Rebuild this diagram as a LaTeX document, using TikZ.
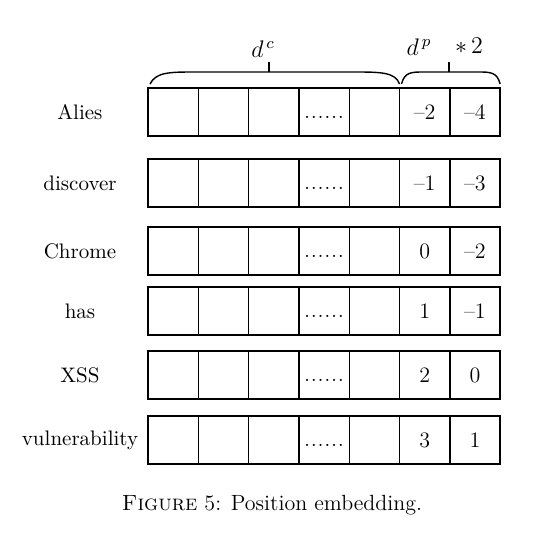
\documentclass[tikz,border=0pt]{standalone}
\usepackage{amsmath,amssymb}
\usepackage{xcolor}
\usepackage{tikz}
\usetikzlibrary{positioning, calc}

\begin{document}
\begin{tikzpicture}[x=0.5pt, y=-0.5pt,
    cellbox/.style={rectangle, draw, line width=0.7pt, minimum width=25.15pt, minimum height=24pt, inner sep=0pt, outer sep=0pt},
    wordlabel/.style={inner sep=0pt, anchor=center, font=\fontsize{10.5}{12}\selectfont},
    numlabel/.style={font=\fontsize{11}{12}\selectfont},
    bracepath/.style={line width=0.7pt}]
    \useasboundingbox (0,0) rectangle (545,532);

    \foreach \r/\y/\word/\pa/\pb in {1/112/Alies/--2/--4, 2/183/discover/--1/--3, 3/251/Chrome/0/--2, 4/311/has/1/--1, 5/375/XSS/2/0, 6/440/vulnerability/3/1} {
        \node [wordlabel] (w\r) at (80,\y) {\word};
        \foreach \i in {1,...,7}
            \node [cellbox] (c\r-\i) at ({148+50.3*(\i-0.5)},\y) {};
        \node [inner sep=0pt] (dots\r) at ($(c\r-4)+(0,5)$) {.\kern0.6pt.\kern0.6pt.\kern0.6pt.\kern0.6pt.\kern0.6pt.};
        \node [numlabel] (pa\r) at (c\r-6) {\pa};
        \node [numlabel] (pb\r) at (c\r-7) {\pb};
    }

    % braces over the first row
    \coordinate (bl) at ($(c1-1.north west)+(2,-4)$);
    \coordinate (br) at ($(c1-5.north east)+(0,-4)$);
    \coordinate (pl) at ($(c1-6.north west)+(2,-4)$);
    \coordinate (pr) at ($(c1-7.north east)+(0,-4)$);
    \draw [bracepath] (bl) .. controls ($(bl)+(6,-12)$) and ($(bl)+(20,-12)$) .. ($(bl)+(45,-12)$)
        -- ($(br)+(-45,-12)$) .. controls ($(br)+(-20,-12)$) and ($(br)+(-4,-12)$) .. (br);
    \draw [bracepath] (pl) .. controls ($(pl)+(3,-12)$) and ($(pl)+(10,-12)$) .. ($(pl)+(22,-12)$)
        -- ($(pr)+(-22,-12)$) .. controls ($(pr)+(-10,-12)$) and ($(pr)+(-3,-12)$) .. (pr);
    \coordinate (tc) at (269,72);
    \coordinate (tp) at (449,72);
    \draw [bracepath] (tc) -- ++(0,-10);
    \draw [bracepath] (tp) -- ++(0,-10);
    \node [font=\large] (dc) at (263,49) {$d^{\,c}$};
    \node [font=\large] (dp) at (419,47) {$d^{\,p}$};
    \node [font=\large] (times) at (469,46) {$*\,2$};

    \node [font=\fontsize{11}{13}\selectfont] (caption) at (272,505) {\textsc{Figure} 5: Position embedding.};
\end{tikzpicture}
\end{document}
